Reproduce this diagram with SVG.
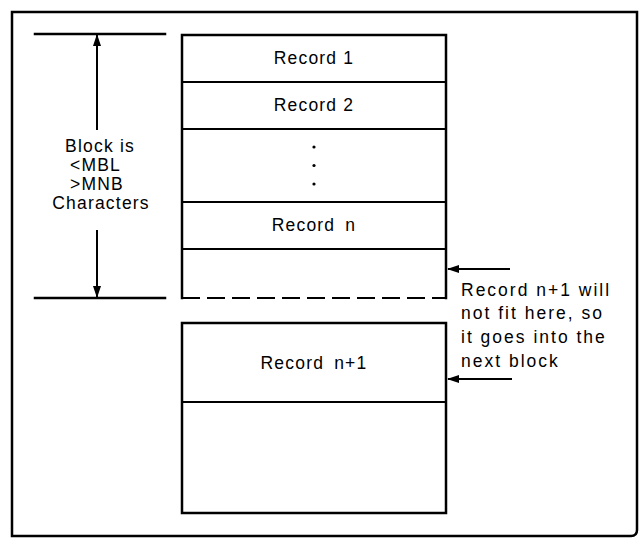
<svg xmlns="http://www.w3.org/2000/svg" width="640" height="538" viewBox="0 0 640 538">
<defs>
<style>
.ln{stroke:#000;stroke-width:2.5;fill:none;stroke-linecap:square}
.dv{stroke:#000;stroke-width:2.2;fill:none}
.t{font-family:"Liberation Sans",Arial,sans-serif;font-size:17.5px;fill:#000;letter-spacing:1.2px}
.n{letter-spacing:2px}
.c{text-anchor:middle}
</style>
<marker id="ah" markerWidth="12" markerHeight="8" refX="11" refY="4" orient="auto" markerUnits="userSpaceOnUse">
<path d="M0,0 L12,4 L0,8 Z" fill="#000"/>
</marker>
</defs>
<rect width="640" height="538" fill="#fff"/>
<g id="frame">
<path class="ln" d="M12,12 H637 V530 Q637,536 631,536 H12 Z"/>
</g>
<g id="block-extent">
<line class="ln" x1="35" y1="34" x2="165" y2="34"/>
<line class="ln" x1="35" y1="298" x2="165" y2="298"/>
<text class="t c" x="100" y="152">Block is</text>
<text class="t" x="70" y="171">&lt;MBL</text>
<text class="t" x="70" y="190">&gt;MNB</text>
<text class="t c" x="101" y="209">Characters</text>
</g>
<g id="block1">
<path class="ln" d="M182,298 V35 H446 V298"/>
<line class="dv" x1="182" y1="82" x2="446" y2="82"/>
<line class="dv" x1="182" y1="129" x2="446" y2="129"/>
<line class="dv" x1="182" y1="202" x2="446" y2="202"/>
<line class="dv" x1="182" y1="249" x2="446" y2="249"/>
<line stroke="#000" stroke-width="2.2" x1="182" y1="298" x2="446" y2="298" stroke-dasharray="18 7"/>
<text class="t c" x="314" y="64">Record 1</text>
<text class="t c" x="314" y="111">Record 2</text>
<circle cx="314" cy="147" r="1.6"/>
<circle cx="314" cy="165.5" r="1.6"/>
<circle cx="314" cy="184" r="1.6"/>
<text class="t c" x="314" y="231" word-spacing="4">Record n</text>
</g>
<g id="block2">
<rect class="ln" x="182" y="323" width="264" height="190"/>
<line class="dv" x1="182" y1="402" x2="446" y2="402"/>
<text class="t c" x="314" y="369" word-spacing="4">Record n+1</text>
</g>
<g id="note">
<text class="t n" x="461" y="296">Record n+1 will</text>
<text class="t n" x="461" y="319">not fit here, so</text>
<text class="t n" x="461" y="343">it goes into the</text>
<text class="t n" x="461" y="367">next block</text>
</g>
<g id="connectors">
<line stroke="#000" stroke-width="2" x1="97" y1="130" x2="97" y2="35" marker-end="url(#ah)"/>
<line stroke="#000" stroke-width="2" x1="97" y1="230" x2="97" y2="297" marker-end="url(#ah)"/>
<line stroke="#000" stroke-width="2" x1="510" y1="269" x2="448" y2="269" marker-end="url(#ah)"/>
<line stroke="#000" stroke-width="2" x1="512" y1="379" x2="448" y2="379" marker-end="url(#ah)"/>
</g>
</svg>
